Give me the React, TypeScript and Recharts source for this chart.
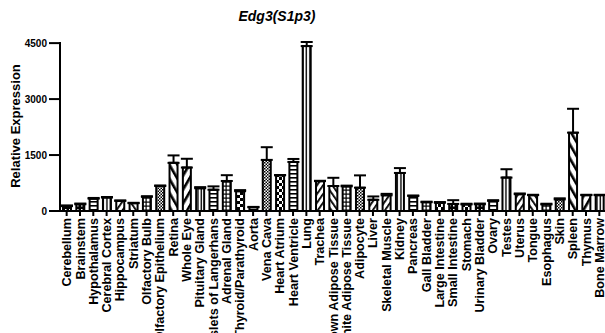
import React from 'react';
import { BarChart, Bar, XAxis, YAxis, Cell, ErrorBar } from 'recharts';

const tissues = [
  'Cerebellum', 'Brainstem', 'Hypothalamus', 'Cerebral Cortex', 'Hippocampus', 'Striatum',
  'Olfactory Bulb', 'Olfactory Epithelium', 'Retina', 'Whole Eye', 'Pituitary Gland',
  'Islets of Langerhans', 'Adrenal Gland', 'Thyroid/Parathyroid', 'Aorta', 'Vena Cava',
  'Heart Atrium', 'Heart Ventricle', 'Lung', 'Trachea', 'Brown Adipose Tissue',
  'White Adipose Tissue', 'Adipocyte', 'Liver', 'Skeletal Muscle', 'Kidney', 'Pancreas',
  'Gall Bladder', 'Large Intestine', 'Small Intestine', 'Stomach', 'Urinary Bladder', 'Ovary',
  'Testes', 'Uterus', 'Tongue', 'Esophagus', 'Skin', 'Spleen', 'Thymus', 'Bone Marrow',
];

const expression = [
  130, 180, 330, 360, 270, 210, 380, 670, 1290, 1165, 610,
  570, 805, 530, 100, 1370, 955, 1315, 4420, 800, 670,
  660, 625, 300, 420, 1020, 405, 235, 220, 190, 175, 180, 270,
  895, 450, 425, 175, 310, 2100, 425, 425,
];

// upper error only (SD)
const errorUp = [
  20, 20, 20, 15, 15, 10, 15, 15, 200, 235, 30,
  90, 155, 30, 10, 340, 10, 80, 110, 10, 220,
  20, 330, 90, 40, 130, 10, 15, 20, 100, 20, 20, 20,
  225, 20, 10, 20, 30, 640, 10, 10,
];

const yTicks = [0, 1500, 3000, 4500];

// fill pattern for each bar, in order
const patternCycle = [
  'dots', 'dots', 'hlines', 'vlines', 'fwd', 'back', 'grid', 'checker', 'wideBack', 'wideFwd', 'vlines',
  'hlines', 'grid', 'bigChecker', 'hlines', 'checker', 'bigChecker', 'hlines', 'vlines', 'fwd', 'back',
  'grid', 'checker', 'fwd', 'fwd', 'vlines', 'hlines', 'grid', 'bigChecker', 'dots', 'bigChecker', 'dots', 'hlines',
  'vlines', 'fwd', 'back', 'grid', 'checker', 'wideBack', 'wideFwd', 'vlines',
];

const rows = tissues.map((tissue, i) => ({
  tissue,
  value: expression[i],
  err: [0, errorUp[i]],
}));

const FONT = '"Liberation Sans", Arial, sans-serif';

const TissueTick = (props: any) => {
  const { x, y, payload } = props;
  return (
    <text
      x={x}
      y={y}
      transform={`rotate(-90, ${x}, ${y})`}
      textAnchor="end"
      dy="0.36em"
      fontFamily={FONT}
      fontWeight="bold"
      fontSize={12.6}
      fill="#000"
    >
      {payload.value}
    </text>
  );
};

const YTitle = () => (
  <text
    x={19.5}
    y={126}
    transform="rotate(-90, 19.5, 126)"
    textAnchor="middle"
    fontFamily={FONT}
    fontWeight="bold"
    fontSize={13}
    fill="#000"
  >
    Relative Expression
  </text>
);

export default function App() {
  return (
    <div style={{ position: 'absolute', left: 0, top: 0, width: 610, height: 333, background: '#fff' }}>
      <div
        style={{
          position: 'absolute', top: 6, left: 0, width: 554, textAlign: 'center',
          fontFamily: FONT, fontWeight: 'bold', fontStyle: 'italic', fontSize: 14, lineHeight: '20px',
        }}
      >
        Edg3(S1p3)
      </div>
      <BarChart
        width={610}
        height={333}
        data={rows}
        margin={{ top: 42, right: 4, left: 0, bottom: 0 }}
        barSize={8}
      >
        <defs>
          <pattern id="dots" patternUnits="userSpaceOnUse" width="4" height="4">
            <rect width="4" height="4" fill="#000" />
            <rect x="1" y="1" width="1.5" height="1.5" fill="#fff" />
          </pattern>
          <pattern id="hlines" patternUnits="userSpaceOnUse" width="4" height="4">
            <rect width="4" height="4" fill="#fff" />
            <rect y="1" width="4" height="1.6" fill="#000" />
          </pattern>
          <pattern id="vlines" patternUnits="userSpaceOnUse" width="3.5" height="4">
            <rect width="3.5" height="4" fill="#fff" />
            <rect x="1.2" width="1.4" height="4" fill="#000" />
          </pattern>
          <pattern id="fwd" patternUnits="userSpaceOnUse" width="5" height="5" patternTransform="rotate(35)">
            <rect width="5" height="5" fill="#fff" />
            <rect x="0" width="1.8" height="5" fill="#000" />
          </pattern>
          <pattern id="back" patternUnits="userSpaceOnUse" width="5" height="5" patternTransform="rotate(-35)">
            <rect width="5" height="5" fill="#fff" />
            <rect x="0" width="1.8" height="5" fill="#000" />
          </pattern>
          <pattern id="wideFwd" patternUnits="userSpaceOnUse" width="7" height="7" patternTransform="rotate(30)">
            <rect width="7" height="7" fill="#fff" />
            <rect x="0" width="2.6" height="7" fill="#000" />
          </pattern>
          <pattern id="wideBack" patternUnits="userSpaceOnUse" width="7" height="7" patternTransform="rotate(-30)">
            <rect width="7" height="7" fill="#fff" />
            <rect x="0" width="2.6" height="7" fill="#000" />
          </pattern>
          <pattern id="grid" patternUnits="userSpaceOnUse" width="4" height="4">
            <rect width="4" height="4" fill="#fff" />
            <rect x="1.5" width="1.2" height="4" fill="#000" />
            <rect y="1.5" width="4" height="1.2" fill="#000" />
          </pattern>
          <pattern id="checker" patternUnits="userSpaceOnUse" width="3" height="3">
            <rect width="3" height="3" fill="#fff" />
            <rect width="1.5" height="1.5" fill="#000" />
            <rect x="1.5" y="1.5" width="1.5" height="1.5" fill="#000" />
          </pattern>
          <pattern id="bigChecker" patternUnits="userSpaceOnUse" width="6" height="6">
            <rect width="6" height="6" fill="#fff" />
            <rect width="3" height="3" fill="#000" />
            <rect x="3" y="3" width="3" height="3" fill="#000" />
          </pattern>
        </defs>
        <YAxis
          type="number"
          domain={[0, 4500]}
          ticks={yTicks}
          interval={0}
          width={60}
          tickSize={11}
          tickMargin={2}
          axisLine={{ stroke: '#000', strokeWidth: 2 }}
          tickLine={{ stroke: '#000', strokeWidth: 2 }}
          tick={{ fill: '#000', fontSize: 10, fontWeight: 'bold', fontFamily: FONT }}
          label={{ content: () => <YTitle /> }}
        />
        <XAxis
          dataKey="tissue"
          interval={0}
          height={122}
          tickSize={5}
          tickMargin={2}
          axisLine={{ stroke: '#000', strokeWidth: 2 }}
          tickLine={{ stroke: '#000', strokeWidth: 2 }}
          tick={<TissueTick />}
        />
        <Bar dataKey="value" stroke="#000" strokeWidth={2} isAnimationActive={false}>
          {rows.map((r, i) => (
            <Cell key={r.tissue} fill={`url(#${patternCycle[i]})`} />
          ))}
          <ErrorBar dataKey="err" direction="y" width={6} stroke="#000" strokeWidth={2} isAnimationActive={false} />
        </Bar>
      </BarChart>
    </div>
  );
}
